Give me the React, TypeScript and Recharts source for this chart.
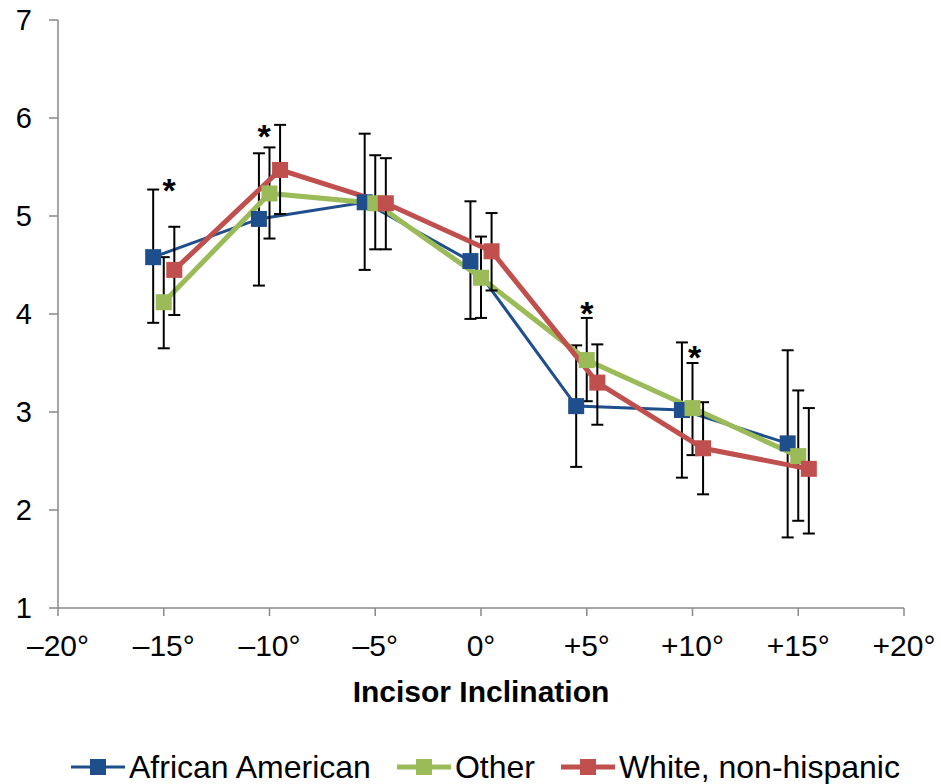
import React from 'react';
import {
  LineChart,
  Line,
  Scatter,
  ErrorBar,
  XAxis,
  YAxis,
  Legend,
} from 'recharts';

// x positions are offset by half a degree so the three groups do not overlap
const inclinations = [-15, -10, -5, 0, 5, 10, 15];
const xTicks = [-20, -15, -10, -5, 0, 5, 10, 15, 20];
const xTickLabels = ['–20°', '–15°', '–10°', '–5°', '0°', '+5°', '+10°', '+15°', '+20°'];
const yTicks = [1, 2, 3, 4, 5, 6, 7];

const aaMean = [4.58, 4.97, 5.14, 4.54, 3.06, 3.02, 2.68];
const aaLow = [3.91, 4.29, 4.45, 3.95, 2.44, 2.33, 1.72];
const aaHigh = [5.27, 5.64, 5.84, 5.15, 3.68, 3.71, 3.63];

const otherMean = [4.12, 5.23, 5.13, 4.37, 3.53, 3.04, 2.55];
const otherLow = [3.65, 4.77, 4.66, 3.96, 3.11, 2.56, 1.89];
const otherHigh = [4.58, 5.7, 5.62, 4.79, 3.96, 3.5, 3.22];

const whiteMean = [4.45, 5.47, 5.13, 4.64, 3.3, 2.63, 2.42];
const whiteLow = [3.99, 5.02, 4.66, 4.24, 2.87, 2.16, 1.76];
const whiteHigh = [4.89, 5.93, 5.59, 5.03, 3.69, 3.1, 3.04];

// significance markers
const starX = [-14.75, -10.25, 5, 10.1];
const starY = [5.32, 5.87, 4.06, 3.61];

const build = (offset: number, mean: number[], low: number[], high: number[]) =>
  inclinations.map((x, i) => ({
    x: x + offset,
    y: mean[i],
    err: [mean[i] - low[i], high[i] - mean[i]],
  }));

const aaData = build(-0.5, aaMean, aaLow, aaHigh);
const otherData = build(0, otherMean, otherLow, otherHigh);
const whiteData = build(0.5, whiteMean, whiteLow, whiteHigh);
const starData = starX.map((x, i) => ({ x, y: starY[i] }));

const series = [
  { name: 'African American', color: '#1F4E8C', width: 3, data: aaData },
  { name: 'Other', color: '#9BBB59', width: 5, data: otherData },
  { name: 'White, non-hispanic', color: '#C0504D', width: 5, data: whiteData },
];

const FONT = '"Liberation Sans", Arial, sans-serif';

const squareDot = (color: string) => (props: any) => {
  const { cx, cy, index } = props;
  if (cx == null || cy == null) return <g key={index} />;
  return <rect key={index} x={cx - 8} y={cy - 8} width={16} height={16} fill={color} />;
};

const Star = (props: any) => {
  const { cx, cy } = props;
  return (
    <text x={cx} y={cy + 17} textAnchor="middle" fontSize={34} fontWeight="bold" fontFamily={FONT} fill="#000">
      *
    </text>
  );
};

const LegendContent = () => (
  <div
    style={{
      height: 66,
      width: 941,
      boxSizing: 'border-box',
      paddingTop: 32,
      paddingLeft: 71,
      display: 'flex',
      justifyContent: 'flex-start',
      alignItems: 'center',
      fontFamily: FONT,
      fontSize: 32,
      lineHeight: 1,
      color: '#000',
      whiteSpace: 'nowrap',
    }}
  >
    {series.map((s) => (
      <div key={s.name} style={{ display: 'flex', alignItems: 'center', marginRight: 26, flexShrink: 0 }}>
        <svg width={54} height={20} style={{ marginRight: 4 }}>
          <line x1={0} y1={10} x2={54} y2={10} stroke={s.color} strokeWidth={s.width} />
          <rect x={19} y={2} width={16} height={16} fill={s.color} />
        </svg>
        <span>{s.name}</span>
      </div>
    ))}
  </div>
);

const App: React.FC = () => {
  return (
    <div style={{ position: 'absolute', left: 0, top: 0, background: '#fff' }}>
      <LineChart width={941} height={784} margin={{ top: 20, right: 37, left: 0, bottom: 0 }}>
        <XAxis
          dataKey="x"
          type="number"
          domain={[-20, 20]}
          ticks={xTicks}
          tickFormatter={(v: number) => xTickLabels[xTicks.indexOf(v)]}
          allowDuplicatedCategory={false}
          stroke="#898989"
          strokeWidth={1.5}
          tickSize={8}
          tickMargin={19}
          height={110}
          tick={{ fill: '#000', fontSize: 30, fontFamily: FONT }}
          label={{
            value: 'Incisor Inclination',
            position: 'insideBottom',
            offset: 16,
            fill: '#000',
            fontSize: 30,
            fontWeight: 'bold',
            fontFamily: FONT,
          }}
        />
        <YAxis
          type="number"
          domain={[1, 7]}
          ticks={yTicks}
          width={58}
          stroke="#898989"
          strokeWidth={1.5}
          tickSize={9}
          tickMargin={17}
          tick={{ fill: '#000', fontSize: 29, fontFamily: FONT }}
        />
        {series.map((s) => (
          <Line
            key={s.name}
            data={s.data}
            dataKey="y"
            name={s.name}
            stroke={s.color}
            strokeWidth={s.width}
            dot={squareDot(s.color)}
            activeDot={false}
            isAnimationActive={false}
          >
            <ErrorBar dataKey="err" direction="y" width={6} stroke="#000" strokeWidth={2} />
          </Line>
        ))}
        <Scatter data={starData} dataKey="y" shape={Star} isAnimationActive={false} legendType="none" />
        <Legend verticalAlign="bottom" height={66} width={941} wrapperStyle={{ left: 0 }} content={LegendContent} />
      </LineChart>
    </div>
  );
};

export default App;
